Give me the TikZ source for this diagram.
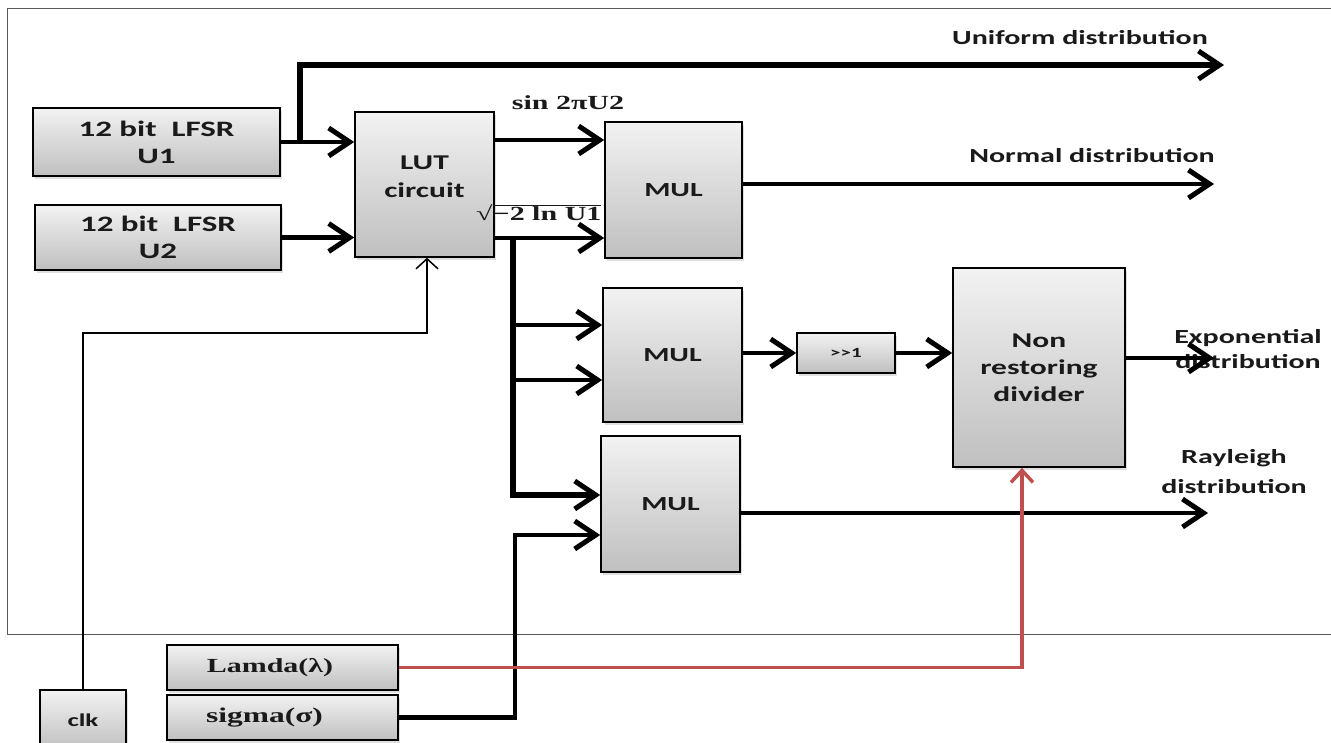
\documentclass[tikz,border=0pt]{standalone}
\usepackage{fontspec}
\setmainfont{Carlito}[FakeStretch=1.5]
\newfontfamily\serifb{Liberation Serif}[FakeStretch=1.5]
\usetikzlibrary{arrows.meta,shadows}
\definecolor{redl}{HTML}{C0504D}
\definecolor{txt}{HTML}{1A1A1A}
\tikzset{
  box/.style={draw=black, line width=1.6pt, top color=gray!10, bottom color=gray!50,
    align=center, inner sep=0pt, text=txt,
    font=\fontsize{20}{26}\selectfont\bfseries,
    drop shadow={shadow xshift=2pt, shadow yshift=-3pt, opacity=0.25}},
  lab/.style={align=center, inner sep=0pt, text=txt, font=\fontsize{20}{25}\selectfont\bfseries},
  slab/.style={align=center, inner sep=0pt, text=txt, font=\fontsize{20}{24}\selectfont\serifb\bfseries},
  thk/.style={line width=4.5pt, -{Straight Barb[length=21pt,width=28pt,line width=5pt]}},
  thn/.style={line width=1.5pt, -{Straight Barb[length=10pt,width=22pt,line width=1.5pt]}},
  red/.style={draw=redl, line width=3.5pt, -{Straight Barb[length=12pt,width=22pt,line width=3.5pt]}}
}
\begin{document}
\begin{tikzpicture}[x=1pt,y=-1pt]
\useasboundingbox (0,0) rectangle (1331,742);
\fill[white] (0,0) rectangle (1331,742);
% frame
\draw[gray!70!black, line width=1pt] (1331,8) -- (7,8) -- (7,634) -- (1331,634);

% boxes
\node[box, minimum width=247pt, minimum height=68pt, font=\fontsize{22}{27}\selectfont\bfseries] (u1) at (156.5,142) {12 bit\ \ LFSR\\U1};
\node[box, minimum width=246pt, minimum height=65pt, font=\fontsize{22}{27}\selectfont\bfseries] (u2) at (158,237.5) {12 bit\ \ LFSR\\U2};
\node[box, minimum width=139pt, minimum height=145pt] (lut) at (424.5,184.5) {};
\node[lab, font=\fontsize{21}{28}\selectfont\bfseries] (luttext) at (424.5,177) {LUT\\circuit};
\node[box, minimum width=137pt, minimum height=136pt] (mul1) at (673.5,190) {MUL};
\node[box, minimum width=139pt, minimum height=134pt] (mul2) at (672.5,355) {MUL};
\node[box, minimum width=139pt, minimum height=136pt] (mul3) at (670.5,504) {MUL};
\node[box, minimum width=98pt, minimum height=40pt, font=\fontsize{14}{16}\selectfont\bfseries] (sh) at (846,353) {>{}>1};
\node[box, minimum width=172pt, minimum height=199pt, font=\fontsize{21}{27}\selectfont\bfseries] (div) at (1039,367.5) {Non\\restoring\\divider};
\node[box, minimum width=231pt, minimum height=45pt, font=\fontsize{20}{24}\selectfont\serifb\bfseries] (lam) at (282.5,667.5) {\hspace*{-25pt}Lamda(λ)};
\node[box, minimum width=231pt, minimum height=45pt, font=\fontsize{21}{24}\selectfont\serifb\bfseries] (sig) at (282.5,717.5) {\hspace*{-36pt}sigma(σ)};
\node[box, minimum width=86pt, minimum height=60pt, font=\fontsize{18}{22}\selectfont\bfseries] (clk) at (83,720) {clk};

% labels
\node[lab] (luni) at (1080,38) {Uniform distribution};
\node[lab] (lnor) at (1092,156) {Normal distribution};
\node[lab] (lexp) at (1248,349) {Exponential\\distribution};
\node[lab, font=\fontsize{20}{30}\selectfont\bfseries] (lray) at (1234,472) {Rayleigh\\distribution};
\node[slab] (lsin) at (568,103) {sin 2πU2};
\node[slab, anchor=west] (lsq) at (476,213) {{\mdseries √}$\overline{\hbox{\serifb\bfseries −2 ln U1}}$};

% coordinates
\coordinate (j1) at (300,144);
\coordinate (ut) at (300,65);
\coordinate (uend) at (1224,65);
\coordinate (b1) at (513,236);
\coordinate (b4) at (513,495);
\coordinate (s1) at (515,717.5);
\coordinate (s2) at (515,535);
\coordinate (r1) at (1022,667.5);
\coordinate (c1) at (83,333);
\coordinate (c2) at (427,333);

% connectors
\draw[thk] (u1.east) -- (lut.west |- u1.east);
\draw[thk, line width=6pt, line join=miter] (j1) -- (ut) -- (uend);
\draw[thk] (u2.east) -- (lut.west |- u2.east);
\draw[thk] (lut.east |- 0,140) -- (mul1.west |- 0,140);
\draw[thk] (lut.east |- 0,238) -- (mul1.west |- 0,238);
\draw[thk, line width=6pt, line join=miter] (b1) -- (b4) -- (mul3.west |- b4);
\draw[thk] (513,325) -- (mul2.west |- 0,325);
\draw[thk] (513,380) -- (mul2.west |- 0,380);
\draw[thk] (mul1.east |- 0,184) -- (1214,184);
\draw[thk] (mul2.east |- sh.west) -- (sh.west);
\draw[thk] (sh.east) -- (div.west |- sh.east);
\draw[thk] (div.east |- 0,358) -- (1214,358);
\draw[thk] (mul3.east |- 0,513) -- (1208,513);
\draw[thk, line join=miter] (sig.east) -- (s1) -- (s2) -- (mul3.west |- s2);
\draw[red, line join=miter] (lam.east) -- (r1) -- (div.south -| r1);
\draw[thn, line join=miter] (clk.north) -- (c1) -- (c2) -- (lut.south -| c2);
\end{tikzpicture}
\end{document}
